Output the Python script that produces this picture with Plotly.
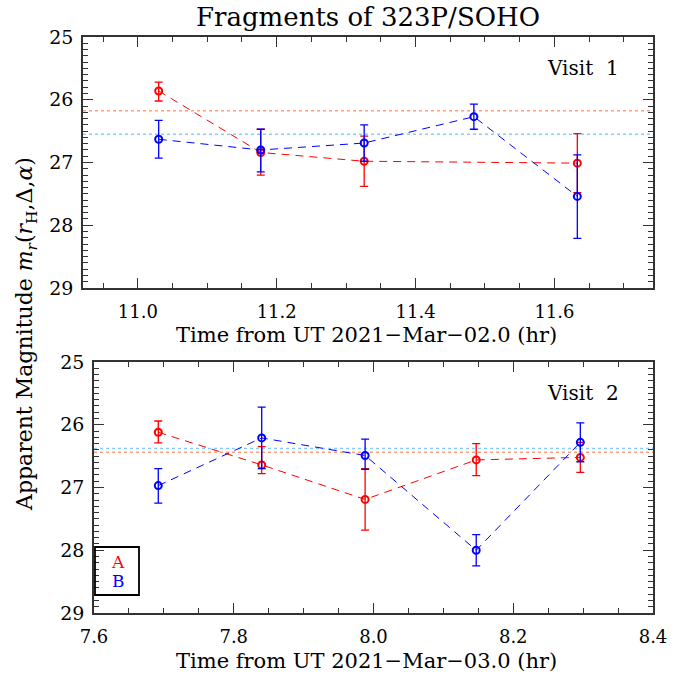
import plotly.graph_objects as go

W, H = 694, 677

# ---------------- data ----------------
# Visit 1 (hours from UT 2021-Mar-02.0)
t1_A = [11.030, 11.177, 11.326, 11.633]
m1_A = [25.86, 26.84, 26.98, 27.01]
lo1_A = [0.14, 0.37, 0.40, 0.47]
hi1_A = [0.16, 0.36, 0.40, 0.47]

t1_B = [11.030, 11.177, 11.326, 11.484, 11.633]
m1_B = [26.63, 26.80, 26.69, 26.27, 27.54]
lo1_B = [0.30, 0.33, 0.29, 0.20, 0.66]
hi1_B = [0.30, 0.35, 0.29, 0.20, 0.67]

mean1_A = 26.175
mean1_B = 26.55

# Visit 2 (hours from UT 2021-Mar-03.0)
t2_A = [7.692, 7.840, 7.988, 8.147, 8.296]
m2_A = [26.12, 26.64, 27.19, 26.56, 26.52]
lo2_A = [0.18, 0.29, 0.49, 0.26, 0.24]
hi2_A = [0.17, 0.14, 0.49, 0.25, 0.24]

t2_B = [7.692, 7.840, 7.988, 8.147, 8.296]
m2_B = [26.97, 26.21, 26.49, 28.00, 26.28]
lo2_B = [0.27, 0.49, 0.26, 0.25, 0.31]
hi2_B = [0.28, 0.49, 0.22, 0.25, 0.31]

mean2_A = 26.44
mean2_B = 26.38

x1_range = [10.921, 11.742]
x2_range = [7.6, 8.4]
y_range = [29, 25]

RED = "#ff0000"
BLUE = "#0000ff"
RED_REF = "#ffa07a"
BLUE_REF = "#87cefa"
FONT = "DejaVu Serif"
FRAME = "#333333"

fig = go.Figure()


def add_series(t, m, lo, hi, color, xa, ya):
    fig.add_trace(go.Scatter(
        x=t, y=m, mode="lines+markers", xaxis=xa, yaxis=ya,
        line=dict(color=color, width=1, dash="8px,6px"),
        marker=dict(symbol="circle-open", size=7, color=color,
                    line=dict(width=2, color=color)),
        error_y=dict(type="data", symmetric=False, array=hi, arrayminus=lo,
                     color=color, thickness=1.3, width=4),
        showlegend=False, hoverinfo="skip"))


add_series(t1_A, m1_A, lo1_A, hi1_A, RED, "x", "y")
add_series(t1_B, m1_B, lo1_B, hi1_B, BLUE, "x", "y")
add_series(t2_A, m2_A, lo2_A, hi2_A, RED, "x2", "y2")
add_series(t2_B, m2_B, lo2_B, hi2_B, BLUE, "x2", "y2")

# mean reference lines
for val, col, xr, yr in [(mean1_A, RED_REF, "x domain", "y"),
                         (mean1_B, BLUE_REF, "x domain", "y"),
                         (mean2_A, RED_REF, "x2 domain", "y2"),
                         (mean2_B, BLUE_REF, "x2 domain", "y2")]:
    fig.add_shape(type="line", xref=xr, yref=yr, x0=0, x1=1, y0=val, y1=val,
                  line=dict(color=col, width=1.5, dash="dot"), layer="below")


def px_x(p):
    return p / W


def px_y(p):
    return 1 - p / H


tickfont = dict(family=FONT, size=18, color="black")
common_x = dict(showgrid=False, zeroline=False, showline=True, linecolor=FRAME,
                linewidth=1.5, mirror="allticks", ticks="inside", ticklen=10,
                tickwidth=1.2, tickcolor=FRAME, dtick=0.2, tick0=0,
                tickformat=".1f", ticklabelstandoff=7, automargin=False,
                tickfont=tickfont,
                minor=dict(ticks="inside", ticklen=5, dtick=0.05,
                           tickcolor=FRAME, tickwidth=1))
common_y = dict(showgrid=False, zeroline=False, showline=True, linecolor=FRAME,
                linewidth=1.5, mirror="allticks", ticks="inside", ticklen=10,
                tickwidth=1.2, tickcolor=FRAME, dtick=1, tick0=25,
                range=y_range, ticklabelstandoff=4, automargin=False,
                tickfont=dict(family=FONT, size=19, color="black"),
                minor=dict(ticks="inside", ticklen=5, dtick=0.1,
                           tickcolor=FRAME, tickwidth=1))

fig.update_layout(
    width=W, height=H, margin=dict(l=0, r=0, t=0, b=0, autoexpand=False),
    paper_bgcolor="white", plot_bgcolor="white",
    font=dict(family=FONT),
    xaxis=dict(common_x, domain=[px_x(83), px_x(653)], range=x1_range,
               anchor="y"),
    yaxis=dict(common_y, domain=[px_y(288), px_y(37)], anchor="x"),
    xaxis2=dict(common_x, domain=[px_x(94), px_x(653)], range=x2_range,
                anchor="y2"),
    yaxis2=dict(common_y, domain=[px_y(613), px_y(362)], anchor="x2"),
)

annotations = [
    dict(text="Fragments of 323P/SOHO", x=px_x(368), y=px_y(17),
         font=dict(size=26)),
    dict(text="Time from UT 2021\u2212Mar\u221202.0 (hr)", x=px_x(366),
         y=px_y(335), font=dict(size=21)),
    dict(text="Time from UT 2021\u2212Mar\u221203.0 (hr)", x=px_x(367),
         y=px_y(661), font=dict(size=21)),
    dict(text="Visit  1", x=px_x(583), y=px_y(68), font=dict(size=20)),
    dict(text="Visit  2", x=px_x(583), y=px_y(393), font=dict(size=20)),
    dict(text="Apparent Magnitude <i>m</i><sub><i>r</i></sub>(<i>r</i><sub>H</sub>,\u0394,<i>\u03b1</i>)",
         x=px_x(26), y=px_y(334), textangle=-90, font=dict(size=22)),
    dict(text="A", x=px_x(118), y=px_y(562), font=dict(size=17, color=RED)),
    dict(text="B", x=px_x(118), y=px_y(581), font=dict(size=17, color=BLUE)),
]
for a in annotations:
    f = dict(family=FONT, color="black")
    f.update(a.pop("font"))
    fig.add_annotation(xref="paper", yref="paper", showarrow=False,
                       xanchor="center", yanchor="middle", font=f, **a)

# legend box
fig.add_shape(type="rect", xref="paper", yref="paper",
              x0=px_x(95), x1=px_x(139), y0=px_y(595), y1=px_y(547),
              line=dict(color="black", width=1.8), fillcolor="rgba(0,0,0,0)")

fig.write_html("out.html")
